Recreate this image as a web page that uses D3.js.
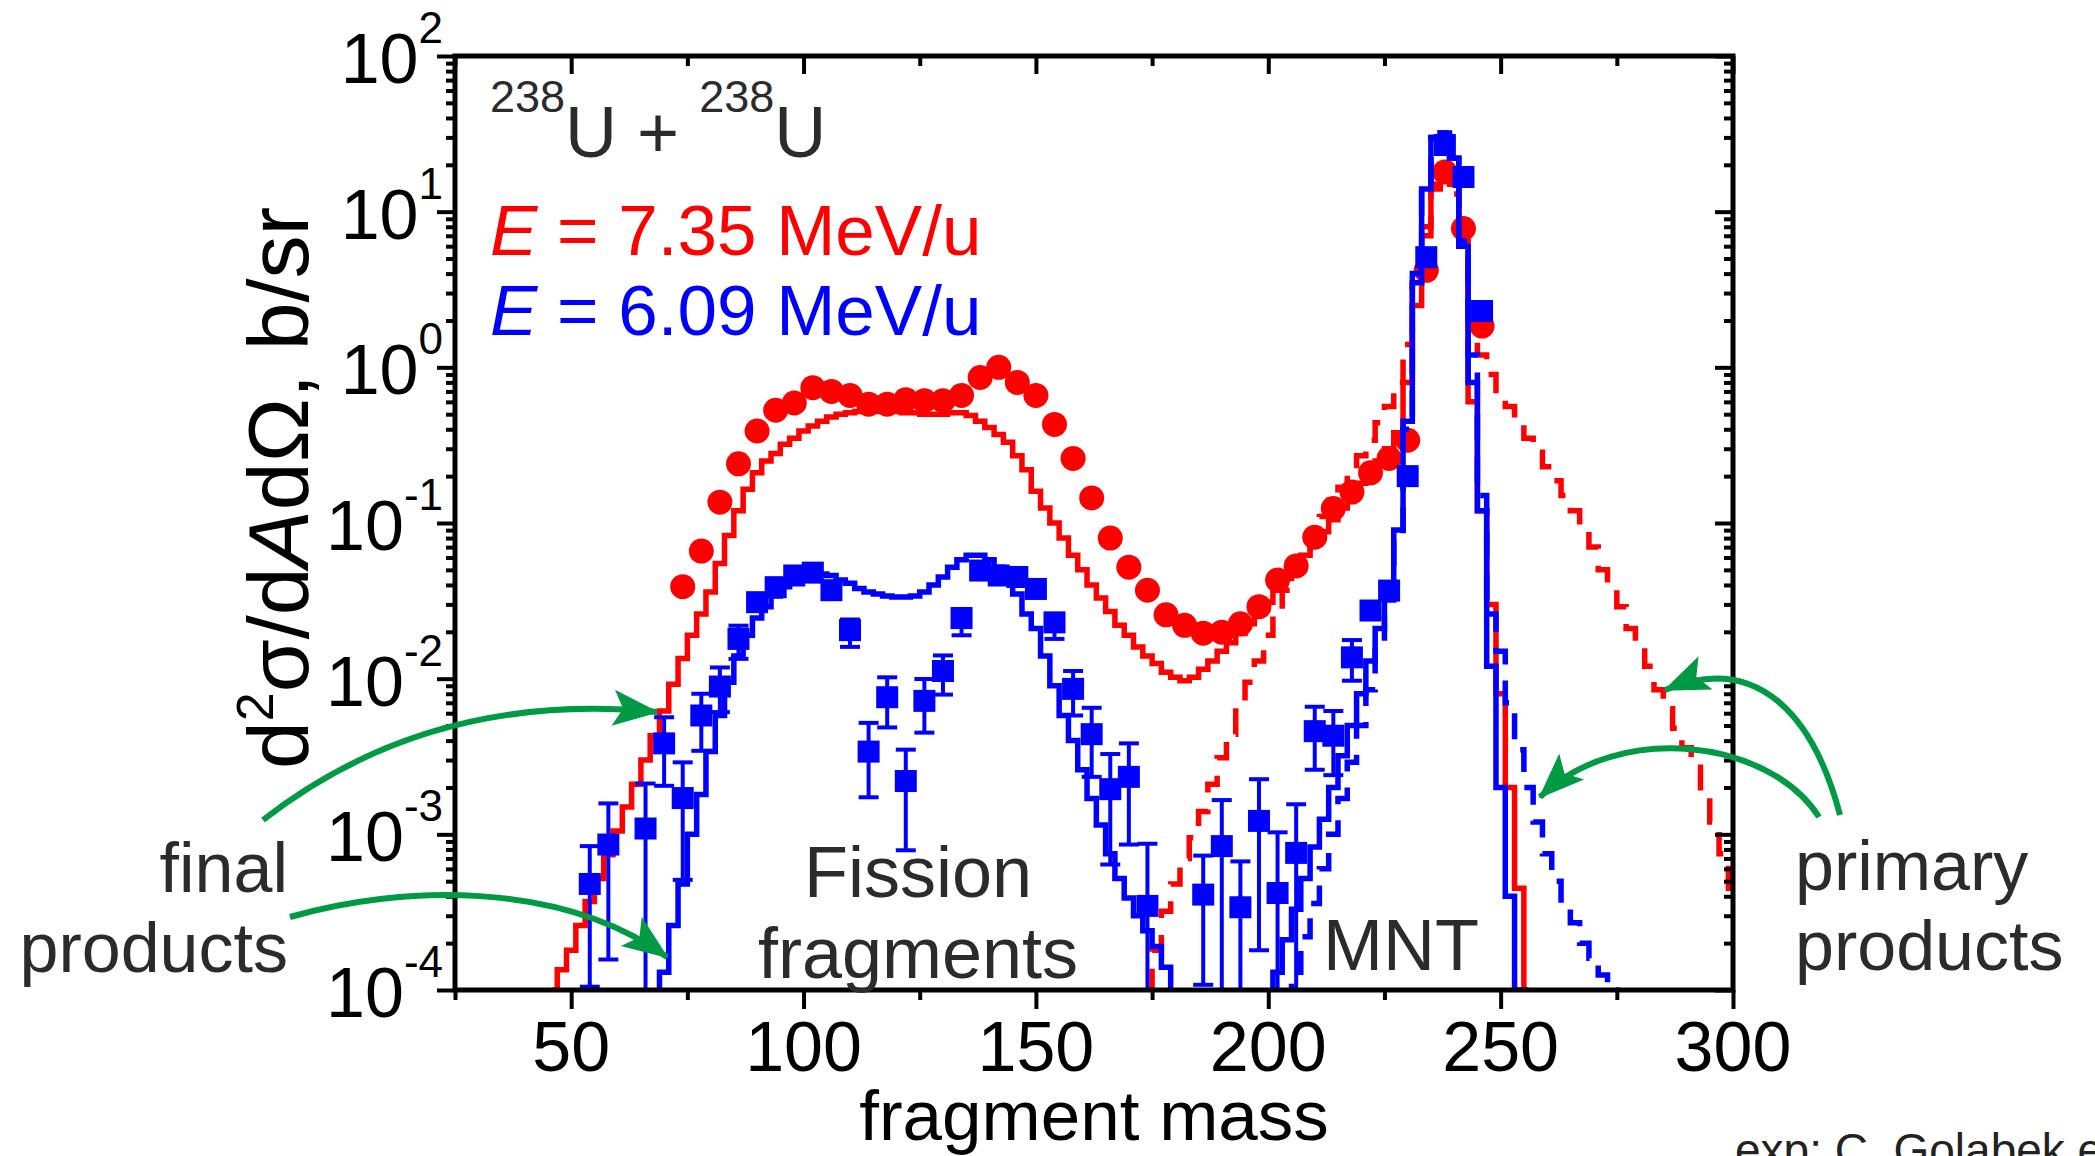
<!DOCTYPE html>
<html>
<head>
<meta charset="utf-8">
<script src="https://cdn.jsdelivr.net/npm/d3@7"></script>
<style>
  body { margin: 0; background: #fff; }
  svg { display: block; font-family: "Liberation Sans", Arial, sans-serif; }
</style>
</head>
<body>
<div id="chart"></div>
<script>
// ---- experimental points, 7.35 MeV/u (red circles)
const redExpMass = [74,78,82,86,90,94,98,102,106,110,114,118,122,126,130,134,138,142,146,150,
  154,158,162,166,170,174,178,182,186,190,194,198,202,206,210,214,218,222,226,230,234,238,242,246];
const redExpValue = [0.039,0.066,0.136,0.24,0.39,0.53,0.59,0.74,0.70,0.66,0.58,0.58,0.62,0.61,0.61,0.66,0.86,1.0,0.80,0.66,
  0.43,0.26,0.145,0.080,0.052,0.037,0.0257,0.022,0.0196,0.0199,0.0225,0.029,0.043,0.053,0.081,0.124,0.158,0.21,0.26,0.34,4.2,18,7.8,1.84];

// ---- experimental points, 6.09 MeV/u (blue squares with error bars)
const blueExpMass = [54,58,66,70,74,78,82,86,90,94,98,102,106,110,114,118,122,126,130,134,
  138,142,146,150,154,158,162,166,170,174,186,190,194,198,202,206,210,214,218,222,226,230,234,238,242,246];
const blueExpValue = [4.8e-4,8.6e-4,1.09e-3,3.84e-3,1.71e-3,5.8e-3,8.9e-3,0.018,0.031,0.0387,0.046,0.048,0.037,0.0205,3.4e-3,7.6e-3,2.2e-3,7.2e-3,0.0112,0.0245,
  0.0495,0.046,0.045,0.0377,0.023,8.6e-3,4.4e-3,1.95e-3,2.34e-3,3.47e-4,4.1e-4,8.4e-4,3.4e-4,1.22e-3,4.2e-4,7.6e-4,4.6e-3,4.3e-3,0.0137,0.0274,0.0368,0.20,5.1,26.8,16.7,2.3];
const blueExpLow = [1.05e-4,1.57e-4,5e-5,2.05e-3,5.1e-4,3.44e-3,6.1e-3,0.0134,null,null,null,null,null,0.016,1.73e-3,4.86e-3,7.9e-4,4.5e-3,7.9e-3,0.019,
  null,null,null,null,0.018,5.8e-3,2.34e-3,6.4e-4,8.6e-4,5e-5,1.08e-4,5e-5,5e-5,1.8e-4,5e-5,5e-5,2.6e-3,2.4e-3,9.7e-3,null,null,null,null,null,null,null];
const blueExpHigh = [8.4e-4,1.58e-3,2.12e-3,5.65e-3,2.9e-3,8e-3,0.0118,0.0219,null,null,null,null,null,0.024,5.2e-3,0.0102,3.5e-3,9.95e-3,0.0141,0.028,
  null,null,null,null,0.026,0.0112,6.5e-3,3.28e-3,3.84e-3,8.7e-4,7.3e-4,1.66e-3,6.7e-4,2.26e-3,1.03e-3,1.56e-3,6.6e-3,6.2e-3,0.0177,null,null,null,null,null,null,null];

// ---- calculation, final products, 7.35 MeV/u (red solid histogram)
const redFinalMass = [46,48,50,52,54,56,58,60,62,64,
  66,68,70,72,74,76,78,80,82,84,
  86,88,90,92,94,96,98,100,102,104,
  106,108,110,112,114,116,118,120,122,124,
  126,128,130,132,134,136,138,140,142,144,
  146,148,150,152,154,156,158,160,162,164,
  166,168,170,172,174,176,178,180,182,184,
  186,188,190,192,194,196,198,200,202,204,
  206,208,210,212,214,216,218,220,222,224,
  226,228,230,232,234,236,238,240,242,244,
  246,248,250,252,254,256];
const redFinalValue = [1.0e-4,1.35e-4,1.8e-4,2.6e-4,3.7e-4,5.2e-4,7.4e-4,1.05e-3,1.5e-3,2.1e-3,
  3.0e-3,4.3e-3,6.2e-3,9.2e-3,0.0135,0.019,0.026,0.036,0.055,0.083,
  0.12,0.165,0.21,0.25,0.28,0.32,0.35,0.39,0.42,0.45,
  0.48,0.50,0.51,0.52,0.52,0.52,0.52,0.52,0.51,0.51,
  0.50,0.50,0.50,0.51,0.51,0.49,0.45,0.41,0.37,0.33,
  0.27,0.22,0.16,0.125,0.10,0.08,0.062,0.050,0.040,0.033,
  0.027,0.022,0.019,0.016,0.014,0.0125,0.011,0.0102,0.0097,0.0102,
  0.0115,0.013,0.015,0.017,0.0195,0.0225,0.026,0.031,0.037,0.044,
  0.052,0.062,0.074,0.088,0.105,0.125,0.15,0.18,0.21,0.25,
  0.30,0.38,0.8,2.5,7,14,19,15,6,0.6,
  0.12,0.03,8e-3,2e-3,4.5e-4,1e-4];

// ---- calculation, primary products, 7.35 MeV/u (red dashed histogram)
const redPrimaryMass = [174,176,178,180,182,184,186,188,190,192,
  194,196,198,200,202,204,206,208,210,212,
  214,216,218,220,222,224,226,228,230,232,
  234,236,238,240,242,244,246,248,250,252,
  254,256,258,260,262,264,266,268,270,272,
  274,276,278,280,282,284,286,288,290,292,
  294,296,298,300];
const redPrimaryValue = [1.0e-4,1.8e-4,3.2e-4,4.8e-4,7e-4,9.5e-4,1.4e-3,2.1e-3,3.1e-3,4.4e-3,
  6.8e-3,9.5e-3,0.013,0.019,0.027,0.037,0.048,0.065,0.085,0.11,
  0.14,0.17,0.21,0.27,0.34,0.44,0.56,0.8,1.4,3.5,
  8,15,20,13,6.5,2.5,1.2,0.9,0.71,0.56,
  0.44,0.35,0.285,0.23,0.187,0.15,0.12,0.092,0.07,0.05,
  0.037,0.029,0.021,0.016,0.012,0.0085,0.0064,0.0048,0.0036,0.0027,
  0.0019,0.0012,0.00075,0.00045];

// ---- calculation, final products, 6.09 MeV/u (blue solid histogram, two pieces)
const blueFinalMassA = [68,70,72,74,76,78,80,82,84,86,
  88,90,92,94,96,98,100,102,104,106,
  108,110,112,114,116,118,120,122,124,126,
  128,130,132,134,136,138,140,142,144,146,
  148,150,152,154,156,158,160,162,164,166,
  168,170,172,174,176,178,180];
const blueFinalValueA = [7e-5,1.3e-4,2.6e-4,4.8e-4,1.0e-3,1.8e-3,3.4e-3,5.8e-3,9.5e-3,0.014,
  0.019,0.0245,0.029,0.034,0.039,0.043,0.046,0.047,0.047,0.046,
  0.043,0.041,0.038,0.036,0.035,0.034,0.0335,0.0335,0.034,0.036,
  0.040,0.045,0.052,0.058,0.062,0.062,0.058,0.052,0.044,0.035,
  0.026,0.021,0.014,0.009,5.8e-3,4.0e-3,2.6e-3,1.7e-3,1.15e-3,7.5e-4,
  5.2e-4,3.9e-4,3.0e-4,2.4e-4,1.9e-4,1.4e-4,9e-5];
const blueFinalMassB = [200,202,204,206,208,210,212,214,216,218,
  220,222,224,226,228,230,232,234,236,238,
  240,242,244,246,248,250,252,254,256];
const blueFinalValueB = [8e-5,1.3e-4,2.1e-4,3.3e-4,5.2e-4,8.3e-4,1.25e-3,2.0e-3,3.2e-3,5.0e-3,
  8.0e-3,0.013,0.021,0.036,0.09,0.45,3.5,14,30,32,
  22,6,0.8,0.12,0.012,2e-3,4e-4,1e-4,5e-5];

// ---- calculation, primary products, 6.09 MeV/u (blue dashed histogram)
const bluePrimaryMass = [204,206,208,210,212,214,216,218,220,222,
  224,226,228,230,232,234,236,238,240,242,
  244,246,248,250,252,254,256,258,260,262,
  264,266,268,270,272,274,276];
const bluePrimaryValue = [8e-5,1.3e-4,2.2e-4,3.6e-4,6e-4,1.0e-3,1.7e-3,2.9e-3,5.0e-3,8.5e-3,
  0.016,0.032,0.08,0.4,4,14,30,32,22,6.5,
  1.2,0.15,0.026,0.015,7e-3,3.5e-3,2.0e-3,1.2e-3,7.5e-4,5e-4,
  3.6e-4,2.7e-4,2e-4,1.6e-4,1.25e-4,1e-4,8e-5];

// ---- axes
const xMajorTicks = [50, 100, 150, 200, 250, 300];
const xMinorTicks = [25, 75, 125, 175, 225, 275];
const yExponents = [-4, -3, -2, -1, 0, 1, 2];

const width = 2095, height = 1156;
const red = "#ff0000", blue = "#0000ff", green = "#009a44", grey = "#2b2b2b";

const x = d3.scaleLinear().domain([25, 300]).range([455, 1733]);
const y = d3.scaleLog().domain([1e-4, 1e2]).range([990, 56]);

const svg = d3.select("#chart").append("svg")
    .attr("width", width)
    .attr("height", height);

svg.append("rect").attr("width", width).attr("height", height).attr("fill", "#fff");

const defs = svg.append("defs");
defs.append("clipPath").attr("id", "plot-clip")
  .append("rect")
    .attr("x", x.range()[0]).attr("y", y.range()[1])
    .attr("width", x.range()[1] - x.range()[0])
    .attr("height", y.range()[0] - y.range()[1]);

defs.append("marker")
    .attr("id", "arrow")
    .attr("markerUnits", "userSpaceOnUse")
    .attr("viewBox", "0 -20 46 40")
    .attr("refX", 44).attr("refY", 0)
    .attr("markerWidth", 46).attr("markerHeight", 40)
    .attr("orient", "auto")
  .append("path")
    .attr("d", "M0,-18L46,0L0,18L10,0Z")
    .attr("fill", green);

const zip = (m, v) => m.map((d, i) => ({ m: d, v: v[i] }));

const step = d3.line()
    .defined(d => d.v != null)
    .x(d => x(d.m))
    .y(d => y(d.v))
    .curve(d3.curveStep);

const plot = svg.append("g").attr("clip-path", "url(#plot-clip)");

// red histograms
plot.append("path")
    .attr("d", step(zip(redFinalMass, redFinalValue)))
    .attr("fill", "none").attr("stroke", red).attr("stroke-width", 5.5);
plot.append("path")
    .attr("d", step(zip(redPrimaryMass, redPrimaryValue)))
    .attr("fill", "none").attr("stroke", red).attr("stroke-width", 5.5)
    .attr("stroke-dasharray", "26 17");

// red circles
plot.append("g")
  .selectAll("circle")
  .data(zip(redExpMass, redExpValue))
  .join("circle")
    .attr("cx", d => x(d.m))
    .attr("cy", d => y(d.v))
    .attr("r", 12.5)
    .attr("fill", red);

// blue histograms
plot.append("path")
    .attr("d", step(zip(bluePrimaryMass, bluePrimaryValue)))
    .attr("fill", "none").attr("stroke", blue).attr("stroke-width", 5.5)
    .attr("stroke-dasharray", "26 16");
plot.append("path")
    .attr("d", step(zip(blueFinalMassA, blueFinalValueA)))
    .attr("fill", "none").attr("stroke", blue).attr("stroke-width", 5.5);
plot.append("path")
    .attr("d", step(zip(blueFinalMassB, blueFinalValueB)))
    .attr("fill", "none").attr("stroke", blue).attr("stroke-width", 5.5);

// blue squares with error bars
const blueExp = blueExpMass.map((m, i) => ({
  m, v: blueExpValue[i], lo: blueExpLow[i], hi: blueExpHigh[i]
}));
const err = plot.append("g")
    .attr("stroke", blue).attr("stroke-width", 4)
  .selectAll("g")
  .data(blueExp.filter(d => d.lo != null))
  .join("g");
err.append("line")
    .attr("x1", d => x(d.m)).attr("x2", d => x(d.m))
    .attr("y1", d => y(d.lo)).attr("y2", d => y(d.hi));
err.append("line")
    .attr("x1", d => x(d.m) - 10).attr("x2", d => x(d.m) + 10)
    .attr("y1", d => y(d.hi)).attr("y2", d => y(d.hi));
err.append("line")
    .attr("x1", d => x(d.m) - 10).attr("x2", d => x(d.m) + 10)
    .attr("y1", d => y(d.lo)).attr("y2", d => y(d.lo));

plot.append("g")
  .selectAll("rect")
  .data(blueExp)
  .join("rect")
    .attr("x", d => x(d.m) - 11)
    .attr("y", d => y(d.v) - 11)
    .attr("width", 22).attr("height", 22)
    .attr("fill", blue);

// ---- ticks
function styleAxis(g) {
  g.select(".domain").remove();
  g.selectAll(".tick line").attr("stroke", "#000").attr("stroke-width", 4);
  g.selectAll(".tick text").remove();
}
const yMinor = [];
yExponents.slice(0, -1).forEach(e => [2,3,4,5,6,7,8,9].forEach(k => yMinor.push(k * Math.pow(10, e))));
const yMajor = yExponents.map(e => Math.pow(10, e));

svg.append("g").attr("transform", `translate(0,${y.range()[0]})`)
    .call(d3.axisBottom(x).tickValues(xMajorTicks).tickSize(19).tickSizeOuter(0)).call(styleAxis);
svg.append("g").attr("transform", `translate(0,${y.range()[0]})`)
    .call(d3.axisBottom(x).tickValues(xMinorTicks).tickSize(10).tickSizeOuter(0)).call(styleAxis);
svg.append("g").attr("transform", `translate(0,${y.range()[1]})`)
    .call(d3.axisTop(x).tickValues(xMajorTicks).tickSize(-18).tickSizeOuter(0)).call(styleAxis);
svg.append("g").attr("transform", `translate(0,${y.range()[1]})`)
    .call(d3.axisTop(x).tickValues(xMinorTicks).tickSize(-10).tickSizeOuter(0)).call(styleAxis);
svg.append("g").attr("transform", `translate(${x.range()[0]},0)`)
    .call(d3.axisLeft(y).tickValues(yMajor).tickSize(18).tickSizeOuter(0)).call(styleAxis);
svg.append("g").attr("transform", `translate(${x.range()[0]},0)`)
    .call(d3.axisLeft(y).tickValues(yMinor).tickSize(9).tickSizeOuter(0)).call(styleAxis);
svg.append("g").attr("transform", `translate(${x.range()[1]},0)`)
    .call(d3.axisRight(y).tickValues(yMajor).tickSize(-18).tickSizeOuter(0)).call(styleAxis);
svg.append("g").attr("transform", `translate(${x.range()[1]},0)`)
    .call(d3.axisRight(y).tickValues(yMinor).tickSize(-9).tickSizeOuter(0)).call(styleAxis);

// frame
svg.append("rect")
    .attr("x", x.range()[0]).attr("y", y.range()[1])
    .attr("width", x.range()[1] - x.range()[0])
    .attr("height", y.range()[0] - y.range()[1])
    .attr("fill", "none").attr("stroke", "#000").attr("stroke-width", 5);

// tick labels
svg.append("g")
  .selectAll("text")
  .data(xMajorTicks)
  .join("text")
    .attr("x", d => x(d)).attr("y", 1071)
    .attr("text-anchor", "middle")
    .attr("font-size", 70)
    .text(d => d);

const yLab = svg.append("g")
  .selectAll("text")
  .data(yExponents)
  .join("text")
    .attr("x", 443).attr("y", d => y(Math.pow(10, d)) + 27)
    .attr("text-anchor", "end")
    .attr("font-size", 70);
yLab.append("tspan").text("10");
yLab.append("tspan").attr("font-size", 44).attr("dy", -40).text(d => d);

// axis titles
svg.append("text")
    .attr("x", 1094).attr("y", 1140)
    .attr("text-anchor", "middle")
    .attr("font-size", 71)
    .text("fragment mass");

const yTitle = svg.append("text")
    .attr("transform", "translate(308,488) rotate(-90)")
    .attr("text-anchor", "middle")
    .attr("font-size", 86);
yTitle.append("tspan").text("d");
yTitle.append("tspan").attr("font-size", 52).attr("dy", -35).text("2");
yTitle.append("tspan").attr("dy", 35).text("σ/d");
yTitle.append("tspan").attr("font-style", "italic").text("A");
yTitle.append("tspan").text("dΩ, b/sr");

// annotations inside the plot
const sys = svg.append("text").attr("x", 490).attr("y", 157).attr("fill", grey).attr("font-size", 72);
sys.append("tspan").attr("font-size", 45).attr("dy", -45).text("238");
sys.append("tspan").attr("dy", 45).text("U + ");
sys.append("tspan").attr("font-size", 45).attr("dy", -45).text("238");
sys.append("tspan").attr("dy", 45).text("U");

[["7.35", red, 255], ["6.09", blue, 335]].forEach(([e, c, yy]) => {
  const t = svg.append("text").attr("x", 490).attr("y", yy).attr("fill", c).attr("font-size", 71);
  t.append("tspan").attr("font-style", "italic").text("E");
  t.append("tspan").text(` = ${e} MeV/u`);
});

svg.append("text").attr("x", 918).attr("y", 897).attr("text-anchor", "middle")
    .attr("fill", grey).attr("font-size", 72).text("Fission");
svg.append("text").attr("x", 918).attr("y", 978).attr("text-anchor", "middle")
    .attr("fill", grey).attr("font-size", 72).text("fragments");
svg.append("text").attr("x", 1401).attr("y", 970).attr("text-anchor", "middle")
    .attr("fill", grey).attr("font-size", 72).text("MNT");

// labels outside the plot
svg.append("text").attr("x", 288).attr("y", 892).attr("text-anchor", "end")
    .attr("fill", grey).attr("font-size", 70).text("final");
svg.append("text").attr("x", 288).attr("y", 972).attr("text-anchor", "end")
    .attr("fill", grey).attr("font-size", 70).text("products");
svg.append("text").attr("x", 1795).attr("y", 890)
    .attr("fill", grey).attr("font-size", 70).text("primary");
svg.append("text").attr("x", 1795).attr("y", 970)
    .attr("fill", grey).attr("font-size", 70).text("products");
svg.append("text").attr("x", 1735).attr("y", 1166)
    .attr("fill", "#222").attr("font-size", 46).text("exp: C. Golabek et al.");

// green arrows
const arrows = [
  "M263,820 Q430,690 657,712",
  "M290,917 C400,885 560,880 667,957",
  "M1840,815 C1815,720 1760,650 1665,690",
  "M1819,817 C1770,740 1620,720 1540,797"
];
svg.append("g")
  .selectAll("path")
  .data(arrows)
  .join("path")
    .attr("d", d => d)
    .attr("fill", "none")
    .attr("stroke", green)
    .attr("stroke-width", 6)
    .attr("marker-end", "url(#arrow)");
</script>
</body>
</html>
